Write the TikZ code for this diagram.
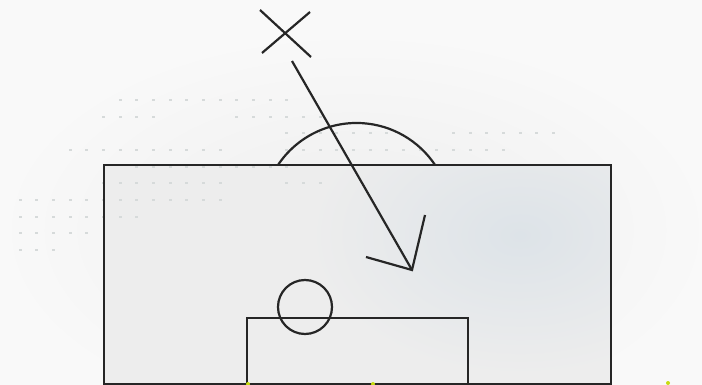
\documentclass[tikz,border=0pt]{standalone}
\usetikzlibrary{calc}
\definecolor{bgcol}{HTML}{F9F9F9}
\definecolor{hazecol}{HTML}{EEEEEE}
\definecolor{boxcol}{HTML}{EDEDED}
\definecolor{bluecol}{HTML}{DDE3E8}
\definecolor{inkcol}{HTML}{262626}
\definecolor{dotcol}{HTML}{D6DADA}
\definecolor{yelcol}{HTML}{C8DC10}
\tikzset{
  ink/.style={draw=inkcol, line width=2.2pt, line join=miter},
  bgdot/.style={fill=dotcol},
  yeldot/.style={fill=yelcol}
}
\begin{document}
\begin{tikzpicture}[x=1pt, y=-1pt]
\useasboundingbox (0,0) rectangle (702,385);
% background
\fill[bgcol] (0,0) rectangle (702,385);
\shade[inner color=hazecol, outer color=bgcol] (355,230) ellipse [x radius=360, y radius=200];
% box fill
\fill[boxcol] (104,165) rectangle (611,384);
\begin{scope}
  \clip (104,165) rectangle (611,384);
  \shade[inner color=bluecol, outer color=boxcol] (520,235) ellipse [x radius=210, y radius=140];
\end{scope}
% dot pattern
\foreach \yy/\a/\b in {100/6/16, 117/5/8, 117/13/18, 133/16/22, 133/26/32, 150/3/12, 150/16/29, 167/7/16, 183/5/12, 183/16/18, 200/0/12, 217/0/7, 233/0/4, 250/0/2} {
  \foreach \i in {\a,...,\b} {
    \fill[bgdot] ({20+16.67*\i-1.5},{\yy-1}) rectangle ++(3,2);
  }
}
% pitch lines
\draw[ink] (104,165) rectangle (611,384);
\draw[ink] (247,384) |- (468,318) -- (468,384);
\draw[ink] (278,165) arc [start angle=213.7, end angle=326.3, radius=94.4];
\node[ink, circle, minimum size=54pt, inner sep=0pt] (ball) at (305,307) {};
% X marker
\coordinate (xa) at (260,10);
\coordinate (xb) at (311,57);
\coordinate (xc) at (310,12);
\coordinate (xd) at (262,53);
\draw[ink] (xa) -- (xb);
\draw[ink] (xc) -- (xd);
% arrow
\coordinate (start) at (292,61);
\coordinate (tip) at (412,270);
\coordinate (armA) at (425,215);
\coordinate (armB) at (366,257);
\draw[ink] (start) -- (tip);
\draw[ink] (armA) -- (tip) -- (armB);
% small yellow marks
\fill[yeldot] (248,384) circle [radius=2];
\fill[yeldot] (373,384) circle [radius=2];
\fill[yeldot] (668,383) circle [radius=2];
\end{tikzpicture}
\end{document}
